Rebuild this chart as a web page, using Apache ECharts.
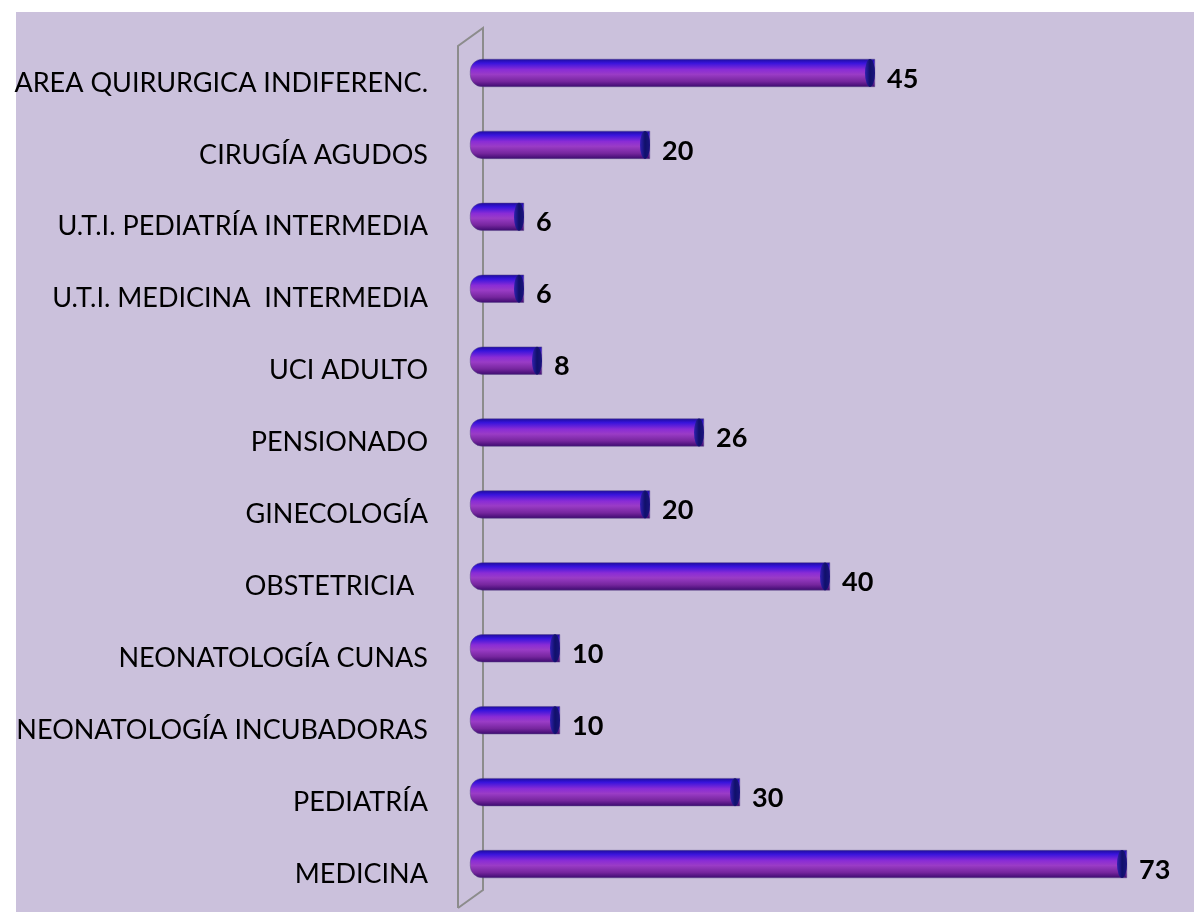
<!DOCTYPE html>
<html lang="es">

<head>
  <meta charset='utf-8'>
  <title>Camas por servicio</title>
  <style>
    html, body { margin: 0; padding: 0; background: #ffffff; }
  </style>
</head>

<body>
  <div id="myCharts" style="width: 1194px;height:912px;"></div>
  <script src="https://cdn.jsdelivr.net/npm/echarts@6/dist/echarts.min.js"></script>
  <script type="text/javascript">
    // categorias (de arriba hacia abajo)
    var categories = [
      'AREA QUIRURGICA INDIFERENC.',
      'CIRUGÍA AGUDOS',
      'U.T.I. PEDIATRÍA INTERMEDIA',
      'U.T.I. MEDICINA  INTERMEDIA',
      'UCI ADULTO',
      'PENSIONADO',
      'GINECOLOGÍA',
      'OBSTETRICIA  ',
      'NEONATOLOGÍA CUNAS',
      'NEONATOLOGÍA INCUBADORAS',
      'PEDIATRÍA',
      'MEDICINA'
    ];
    // cantidad de camas
    var values = [45, 20, 6, 6, 8, 26, 20, 40, 10, 10, 30, 73];

    var myChart = echarts.init(document.getElementById('myCharts'));

    // cilindro: degradado vertical
    var barColor = new echarts.graphic.LinearGradient(0, 0, 0, 1, [
      { offset: 0, color: '#1c0c9a' },
      { offset: 0.15, color: '#3814dc' },
      { offset: 0.38, color: '#8a2cd6' },
      { offset: 0.55, color: '#9a3cc6' },
      { offset: 0.8, color: '#76269e' },
      { offset: 1, color: '#3c0a6e' }
    ]);

    var chartOption = {
      backgroundColor: '#ffffff',
      animation: false,
      graphic: [
        {
          type: 'rect',
          shape: { x: 16, y: 12, width: 1194, height: 912 },
          style: { fill: '#cbc1dc' },
          z: -10
        },
        {
          // pared del eje
          type: 'polyline',
          shape: { points: [[458, 908], [458, 46], [483, 28], [483, 890], [458, 908]] },
          style: { stroke: '#8c8c8c', lineWidth: 2, fill: null },
          z: -5
        }
      ],
      grid: {
        left: 470,
        right: 49,
        top: 37,
        bottom: 12
      },
      xAxis: {
        type: 'value',
        min: 0,
        max: 75,
        show: false
      },
      yAxis: {
        type: 'category',
        inverse: true,
        data: categories,
        axisLine: { show: false },
        axisTick: { show: false },
        axisLabel: {
          margin: 42,
          formatter: function (v) { return '{a|' + v + '}'; },
          rich: {
            a: {
              color: '#000000',
              fontFamily: 'Lato',
              fontSize: 27,
              padding: [20, 0, 0, 0]
            }
          }
        }
      },
      series: [
        {
          type: 'bar',
          data: values,
          barWidth: 28,
          itemStyle: {
            color: barColor,
            borderRadius: [12, 0, 0, 12],
            borderColor: '#5a4a8a',
            borderWidth: 0.5
          },
          label: {
            show: true,
            position: 'right',
            distance: 12,
            offset: [0, 6],
            color: '#000000',
            fontFamily: 'Lato',
            fontWeight: 'bold',
            fontSize: 27
          },
          z: 2
        },
        {
          // tapa del cilindro
          type: 'pictorialBar',
          data: values,
          symbol: 'circle',
          symbolSize: [10, 28],
          symbolPosition: 'end',
          symbolOffset: [0, 0],
          itemStyle: {
            color: new echarts.graphic.LinearGradient(0, 0, 1, 0, [
              { offset: 0, color: '#3020b0' },
              { offset: 0.5, color: '#10106a' },
              { offset: 1, color: '#1a1480' }
            ])
          },
          z: 3
        }
      ]
    };
    myChart.setOption(chartOption);
  </script>
</body>

</html>
